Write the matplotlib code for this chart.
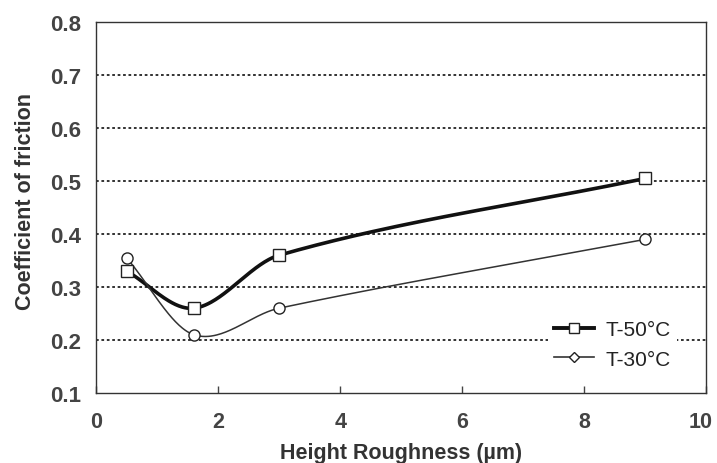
import matplotlib
matplotlib.use('Agg')
import matplotlib.pyplot as plt
import matplotlib.transforms as mtransforms
import numpy as np

plt.rcParams['font.family'] = ['Liberation Sans', 'DejaVu Sans']

# data
roughness = [0.5, 1.6, 3.0, 9.0]
mu_50 = [0.33, 0.26, 0.36, 0.505]
mu_30 = [0.355, 0.21, 0.26, 0.39]
labels = ['T-50\u00b0C', 'T-30\u00b0C']


def smooth(x, y, n=60):
    # cubic Hermite through the points (smoothed line look), slopes from neighbours
    x = np.asarray(x, float)
    y = np.asarray(y, float)
    m = np.empty_like(y)
    m[1:-1] = (y[2:] - y[:-2]) / (x[2:] - x[:-2])
    m[0] = (y[1] - y[0]) / (x[1] - x[0])
    m[-1] = (y[-1] - y[-2]) / (x[-1] - x[-2])
    xs, ys = [], []
    t = np.linspace(0, 1, n)
    for i in range(len(x) - 1):
        h = x[i + 1] - x[i]
        h00 = 2 * t**3 - 3 * t**2 + 1
        h10 = t**3 - 2 * t**2 + t
        h01 = -2 * t**3 + 3 * t**2
        h11 = t**3 - t**2
        xs.append(x[i] + t * h)
        ys.append(h00 * y[i] + h10 * h * m[i] + h01 * y[i + 1] + h11 * h * m[i + 1])
    return np.concatenate(xs), np.concatenate(ys)


fig = plt.figure(figsize=(7.17, 4.64), dpi=100)
ax = fig.add_axes([0.134, 0.151, 0.851, 0.799])

for yv in [0.2, 0.3, 0.4, 0.5, 0.6, 0.7]:
    ax.axhline(yv, color='#222222', lw=1.3, ls=(0, (1.5, 1.5)), zorder=1)

sx, sy = smooth(roughness, mu_50)
ax.plot(sx, sy, color='#111111', lw=2.6, zorder=2)
sx, sy = smooth(roughness, mu_30)
ax.plot(sx, sy, color='#333333', lw=1.1, zorder=2)

ax.plot(roughness, mu_50, ls='none', marker='s', ms=9, mfc='white',
        mec='#222222', mew=1.0, zorder=3)
ax.plot(roughness, mu_30, ls='none', marker='o', ms=8, mfc='white',
        mec='#222222', mew=1.0, zorder=3)

# legend handles
h1, = ax.plot([], [], color='#111111', lw=2.8, marker='s', ms=7.5, mfc='white',
              mec='#222222', mew=1.0)
h2, = ax.plot([], [], color='#333333', lw=1.2, marker='D', ms=5.5, mfc='white',
              mec='#222222', mew=1.0)
leg = ax.legend([h1, h2], labels, loc='upper left', bbox_to_anchor=(0.741, 0.213),
                frameon=True, fontsize=15, handlelength=1.92, handletextpad=0.55,
                labelspacing=0.5, borderpad=0.3, borderaxespad=0)
leg.get_frame().set_facecolor('white')
leg.get_frame().set_edgecolor('none')
leg.get_frame().set_alpha(1)
leg.set_zorder(5)
for txt in leg.get_texts():
    txt.set_color('#222222')

ax.set_xlim(0, 10)
ax.set_ylim(0.1, 0.8)
ax.set_xticks([0, 2, 4, 6, 8, 10])
ax.set_yticks([0.1, 0.2, 0.3, 0.4, 0.5, 0.6, 0.7, 0.8])
ax.set_yticklabels(['0.1', '0.2', '0.3', '0.4', '0.5', '0.6', '0.7', '0.8'])
ax.tick_params(axis='x', direction='in', length=5, width=1, pad=13,
               labelsize=15.5, colors='#444444')
ax.tick_params(axis='y', length=0, pad=11, labelsize=16, colors='#444444')
for lab in ax.get_xticklabels() + ax.get_yticklabels():
    lab.set_fontweight('bold')
# the last x label sits against the right edge, nudge it in
last = ax.get_xticklabels()[-1]
last.set_transform(last.get_transform()
                   + mtransforms.ScaledTranslation(-4 / 72, 0, fig.dpi_scale_trans))
for s in ax.spines.values():
    s.set_color('#333333')
    s.set_linewidth(1.0)

ax.set_xlabel('Height Roughness (\u00b5m)', fontsize=15.5, fontweight='bold',
              color='#333333', labelpad=7)
ax.set_ylabel('Coefficient of friction', fontsize=15.5, fontweight='bold',
              color='#333333', labelpad=10)
ax.yaxis.set_label_coords(-0.098, 0.52)

fig.savefig('out.png', dpi=100)
